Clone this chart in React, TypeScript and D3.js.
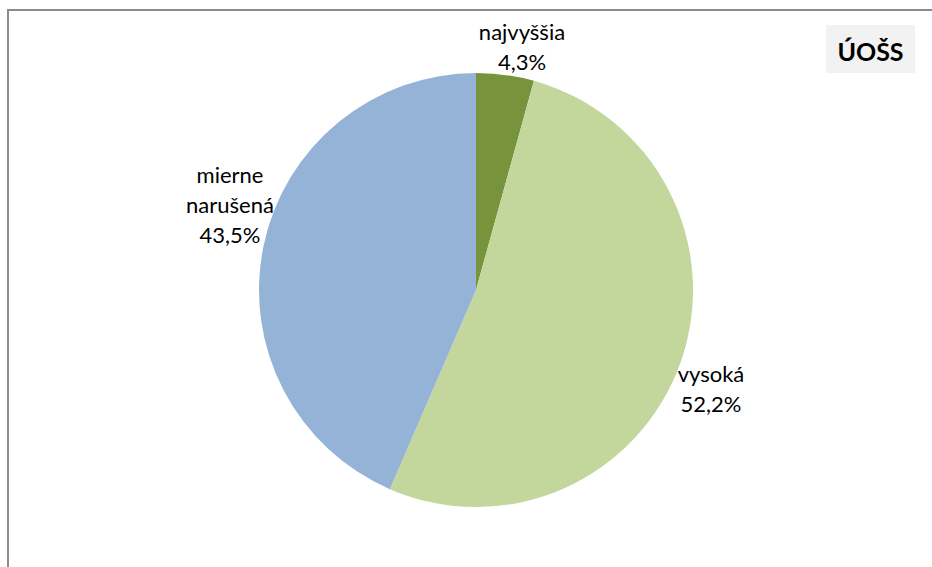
import { pie, arc } from "d3";

const categories = ["najvyššia", "vysoká", "mierne narušená"];
const values = [4.3, 52.2, 43.5];
const valueLabels = ["4,3%", "52,2%", "43,5%"];
const colors = ["#77933C", "#C3D69B", "#95B3D7"];
const title = "ÚOŠS";

// label lines per slice (Excel wraps the long one)
const labelLines = [["najvyššia"], ["vysoká"], ["mierne", "narušená"]];

const width = 932;
const height = 567;
const cx = 476;
const cy = 290;
const radius = 217;
const fontFamily = "Lato, 'Open Sans', sans-serif";
const lineHeight = 30;

// label anchor (center, first baseline) relative to pie center
const labelPos = [
  { x: 46, y: -250 },
  { x: 235, y: 92 },
  { x: -246, y: -107 },
];

const App = () => {
  const pieGen = pie<number>()
    .value((d) => d)
    .sort(null);
  const arcs = pieGen(values);
  const arcGen = arc<any>().innerRadius(0).outerRadius(radius);

  return (
    <svg
      width={width}
      height={height}
      style={{ position: "absolute", left: 0, top: 0, background: "#fff" }}
    >
      <rect
        x={8}
        y={10}
        width={width + 20}
        height={height + 20}
        fill="#fff"
        stroke="#8c8c8c"
        strokeWidth={2}
      />
      <g transform={`translate(${cx},${cy})`}>
        {arcs.map((a, i) => (
          <path key={categories[i]} d={arcGen(a) || ""} fill={colors[i]} />
        ))}
        {arcs.map((a, i) => {
          const lines = [...labelLines[i], valueLabels[i]];
          return (
            <text
              key={"l" + i}
              x={labelPos[i].x}
              y={labelPos[i].y}
              textAnchor="middle"
              fontFamily={fontFamily}
              fontSize={22}
              fill="#000"
            >
              {lines.map((t, j) => (
                <tspan key={j} x={labelPos[i].x} dy={j === 0 ? 0 : lineHeight}>
                  {t}
                </tspan>
              ))}
            </text>
          );
        })}
      </g>
      <rect x={826} y={25} width={89} height={48} fill="#f2f2f2" />
      <text
        x={870.5}
        y={61}
        textAnchor="middle"
        fontFamily={fontFamily}
        fontWeight="bold"
        fontSize={25}
        fill="#000"
      >
        {title}
      </text>
    </svg>
  );
};

export default App;
